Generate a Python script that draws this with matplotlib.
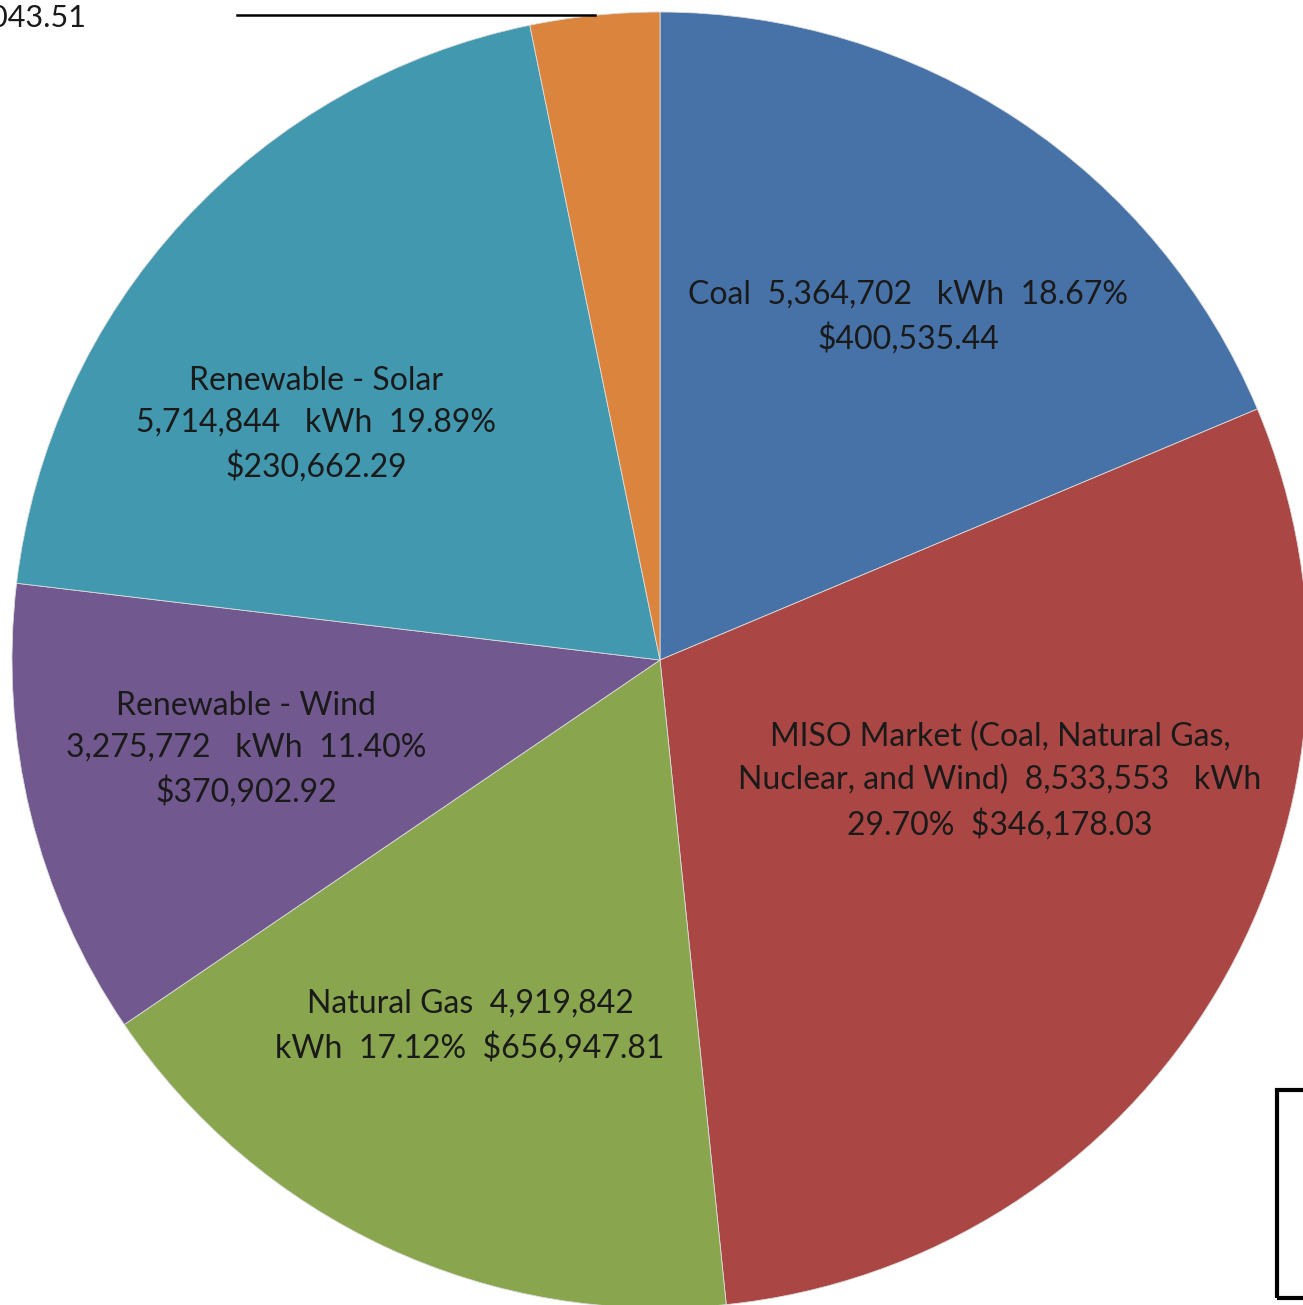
import matplotlib.pyplot as plt
from matplotlib.patches import Rectangle

# energy mix data
sources = ['Coal', 'MISO Market (Coal, Natural Gas, Nuclear, and Wind)', 'Natural Gas',
           'Renewable - Wind', 'Renewable - Solar', 'Other']
kwh = ['5,364,702', '8,533,553', '4,919,842', '3,275,772', '5,714,844', '']
pct = [18.67, 29.70, 17.12, 11.40, 19.89, 3.22]
cost = ['$400,535.44', '$346,178.03', '$656,947.81', '$370,902.92', '$230,662.29', '$29,043.51']
colors = ['#4672A8', '#AA4643', '#89A54E', '#71588F', '#4198AF', '#DB843D']

# label text, broken the way the chart wraps it
labels = [
    f"{sources[0]}  {kwh[0]}   kWh  {pct[0]:.2f}%\n{cost[0]}",
    f"MISO Market (Coal, Natural Gas,\nNuclear, and Wind)  {kwh[1]}   kWh\n{pct[1]:.2f}%  {cost[1]}",
    f"{sources[2]}  {kwh[2]}\nkWh  {pct[2]:.2f}%  {cost[2]}",
    f"{sources[3]}\n{kwh[3]}   kWh  {pct[3]:.2f}%\n{cost[3]}",
    f"{sources[4]}\n{kwh[4]}   kWh  {pct[4]:.2f}%\n{cost[4]}",
]
label_xy = [(908, 317), (1000, 781), (470, 1026), (246, 749), (316, 424)]

W, H = 1303, 1305
fig = plt.figure(figsize=(W / 100, H / 100), dpi=100)
ax = fig.add_axes([0, 0, 1, 1])

ax.pie(pct, colors=colors, startangle=90, counterclock=False,
       center=(660, H - 660), radius=648, frame=True,
       wedgeprops=dict(edgecolor='#dcdcdc', linewidth=0.6))
ax.set_xlim(0, W)
ax.set_ylim(0, H)
ax.set_aspect('equal')
ax.axis('off')

for txt, (x, y) in zip(labels, label_xy):
    ax.text(x, H - y, txt, ha='center', va='center', fontsize=23,
            family='Lato', color='#1a1a1a', linespacing=1.5)

# leader + cut off label of the small slice
ax.plot([237, 595], [H - 15, H - 15], color='black', lw=1.8)
ax.text(86, H - 17, cost[5], ha='right', va='center', fontsize=22,
        family='Lato', color='#1a1a1a')

# legend box, mostly outside the crop
ax.add_patch(Rectangle((1277, H - 1298), 200, 208, fill=False,
                       edgecolor='black', lw=3, clip_on=False))

fig.savefig('out.png', dpi=100)
